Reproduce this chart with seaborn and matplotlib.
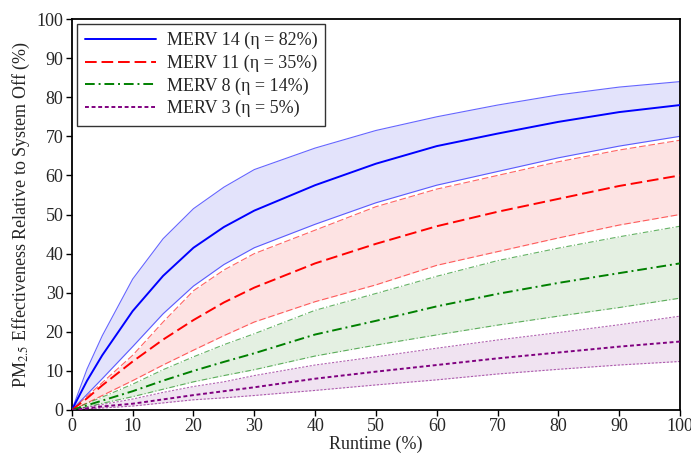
import matplotlib
matplotlib.use("Agg")
import matplotlib.pyplot as plt
import seaborn as sns
import pandas as pd

# runtime (%)
runtime = [0, 2.5, 5, 10, 15, 20, 25, 30, 40, 50, 60, 70, 80, 90, 100]

# effectiveness (%), centre and band limits for each filter
merv14_mid = [0, 7.5, 14, 25.3, 34.3, 41.5, 46.8, 51, 57.5, 63, 67.5, 70.7, 73.7, 76.2, 78]
merv14_hi = [0, 10.5, 19, 33.5, 43.8, 51.5, 57, 61.5, 67, 71.5, 75, 78, 80.6, 82.6, 84]
merv14_lo = [0, 4, 8, 16.2, 24.6, 31.7, 37.2, 41.5, 47.5, 53, 57.5, 61, 64.5, 67.5, 70]

merv11_mid = [0, 3, 6.3, 12.4, 18, 23, 27.5, 31.3, 37.5, 42.5, 47, 50.7, 54, 57.3, 60]
merv11_hi = [0, 3.5, 7, 14, 22.5, 30.5, 35.8, 40, 46, 52, 56.5, 60, 63.5, 66.5, 69]
merv11_lo = [0, 1.8, 3.7, 7.5, 11.5, 15.3, 19, 22.5, 27.7, 32, 37, 40.5, 44, 47.3, 50]

merv8_mid = [0, 1.2, 2.4, 4.8, 7.5, 10, 12.3, 14.5, 19.3, 22.8, 26.5, 29.7, 32.5, 35, 37.5]
merv8_hi = [0, 1.7, 3.3, 6.6, 10.3, 13.6, 16.7, 19.5, 25.5, 29.8, 34.2, 38.2, 41.4, 44.3, 47]
merv8_lo = [0, 0.8, 1.7, 3.4, 5.3, 7.2, 8.8, 10.3, 13.8, 16.6, 19.2, 21.7, 24, 26.2, 28.6]

merv3_mid = [0, 0.4, 0.9, 1.6, 2.7, 3.8, 4.8, 5.8, 8, 9.8, 11.5, 13.2, 14.7, 16.2, 17.5]
merv3_hi = [0, 0.7, 1.4, 2.8, 4.5, 6, 7.2, 8.8, 11.5, 13.6, 15.8, 17.9, 19.8, 21.8, 24]
merv3_lo = [0, 0.3, 0.5, 1, 1.8, 2.6, 3.1, 3.7, 5, 6.4, 7.7, 9.2, 10.4, 11.5, 12.4]

labels = ["MERV 14 (η = 82%)", "MERV 11 (η = 35%)",
          "MERV 8 (η = 14%)", "MERV 3 (η = 5%)"]

sns.set_theme(style="ticks")
plt.rcParams['font.family'] = ['Liberation Serif', 'DejaVu Serif']
plt.rcParams['mathtext.fontset'] = 'stix'

series = [
    (merv14_mid, merv14_hi, merv14_lo, "#0000ff", "#e3e3fb", "-"),
    (merv11_mid, merv11_hi, merv11_lo, "#ff0000", "#fde3e3", (0, (6, 2.5))),
    (merv8_mid, merv8_hi, merv8_lo, "#008000", "#e4f0e2", (0, (5, 2, 1, 2))),
    (merv3_mid, merv3_hi, merv3_lo, "#800080", "#f0e3f1", (0, (2, 1.4))),
]

fig, ax = plt.subplots(figsize=(6.91, 4.54), dpi=100)
fig.subplots_adjust(left=0.104, right=0.984, bottom=0.097, top=0.958)

for (mid, hi, lo, col, fill, ls), lab in zip(series, labels):
    df = pd.DataFrame({"x": runtime, "mid": mid, "hi": hi, "lo": lo})
    ax.fill_between(df["x"], df["lo"], df["hi"], color=fill, lw=0, zorder=1)
    for c in ["hi", "lo"]:
        sns.lineplot(data=df, x="x", y=c, ax=ax, color=col, lw=0.8,
                     alpha=0.6, linestyle=ls, zorder=2)
    ax.plot([runtime[-1], runtime[-1]], [lo[-1], hi[-1]], color=col,
            lw=0.8, alpha=0.6, linestyle=ls, zorder=2)
    sns.lineplot(data=df, x="x", y="mid", ax=ax, color=col, lw=1.4,
                 linestyle=ls, label=lab, zorder=3)

ax.set_xlim(0, 100)
ax.set_ylim(0, 100)
ax.set_xticks(range(0, 101, 10))
ax.set_yticks(range(0, 101, 10))
ax.tick_params(labelsize=13, length=4, width=1, color="black", pad=2)
for s in ax.spines.values():
    s.set_linewidth(1.3)
    s.set_color("black")

ax.set_xlabel("Runtime (%)", fontsize=13, labelpad=0)
ax.set_ylabel("PM$_{2.5}$ Effectiveness Relative to System Off (%)",
              fontsize=13, labelpad=3)

leg = ax.legend(loc="upper left", fontsize=13, handlelength=3.9,
                frameon=True, fancybox=False, borderpad=0.45,
                labelspacing=0.3, handletextpad=0.6, borderaxespad=0.2,
                bbox_to_anchor=(0.003, 0.997))
leg.get_frame().set_edgecolor("#333333")
leg.get_frame().set_linewidth(1.0)
leg.get_frame().set_alpha(1)

fig.savefig("out.png", dpi=100)
